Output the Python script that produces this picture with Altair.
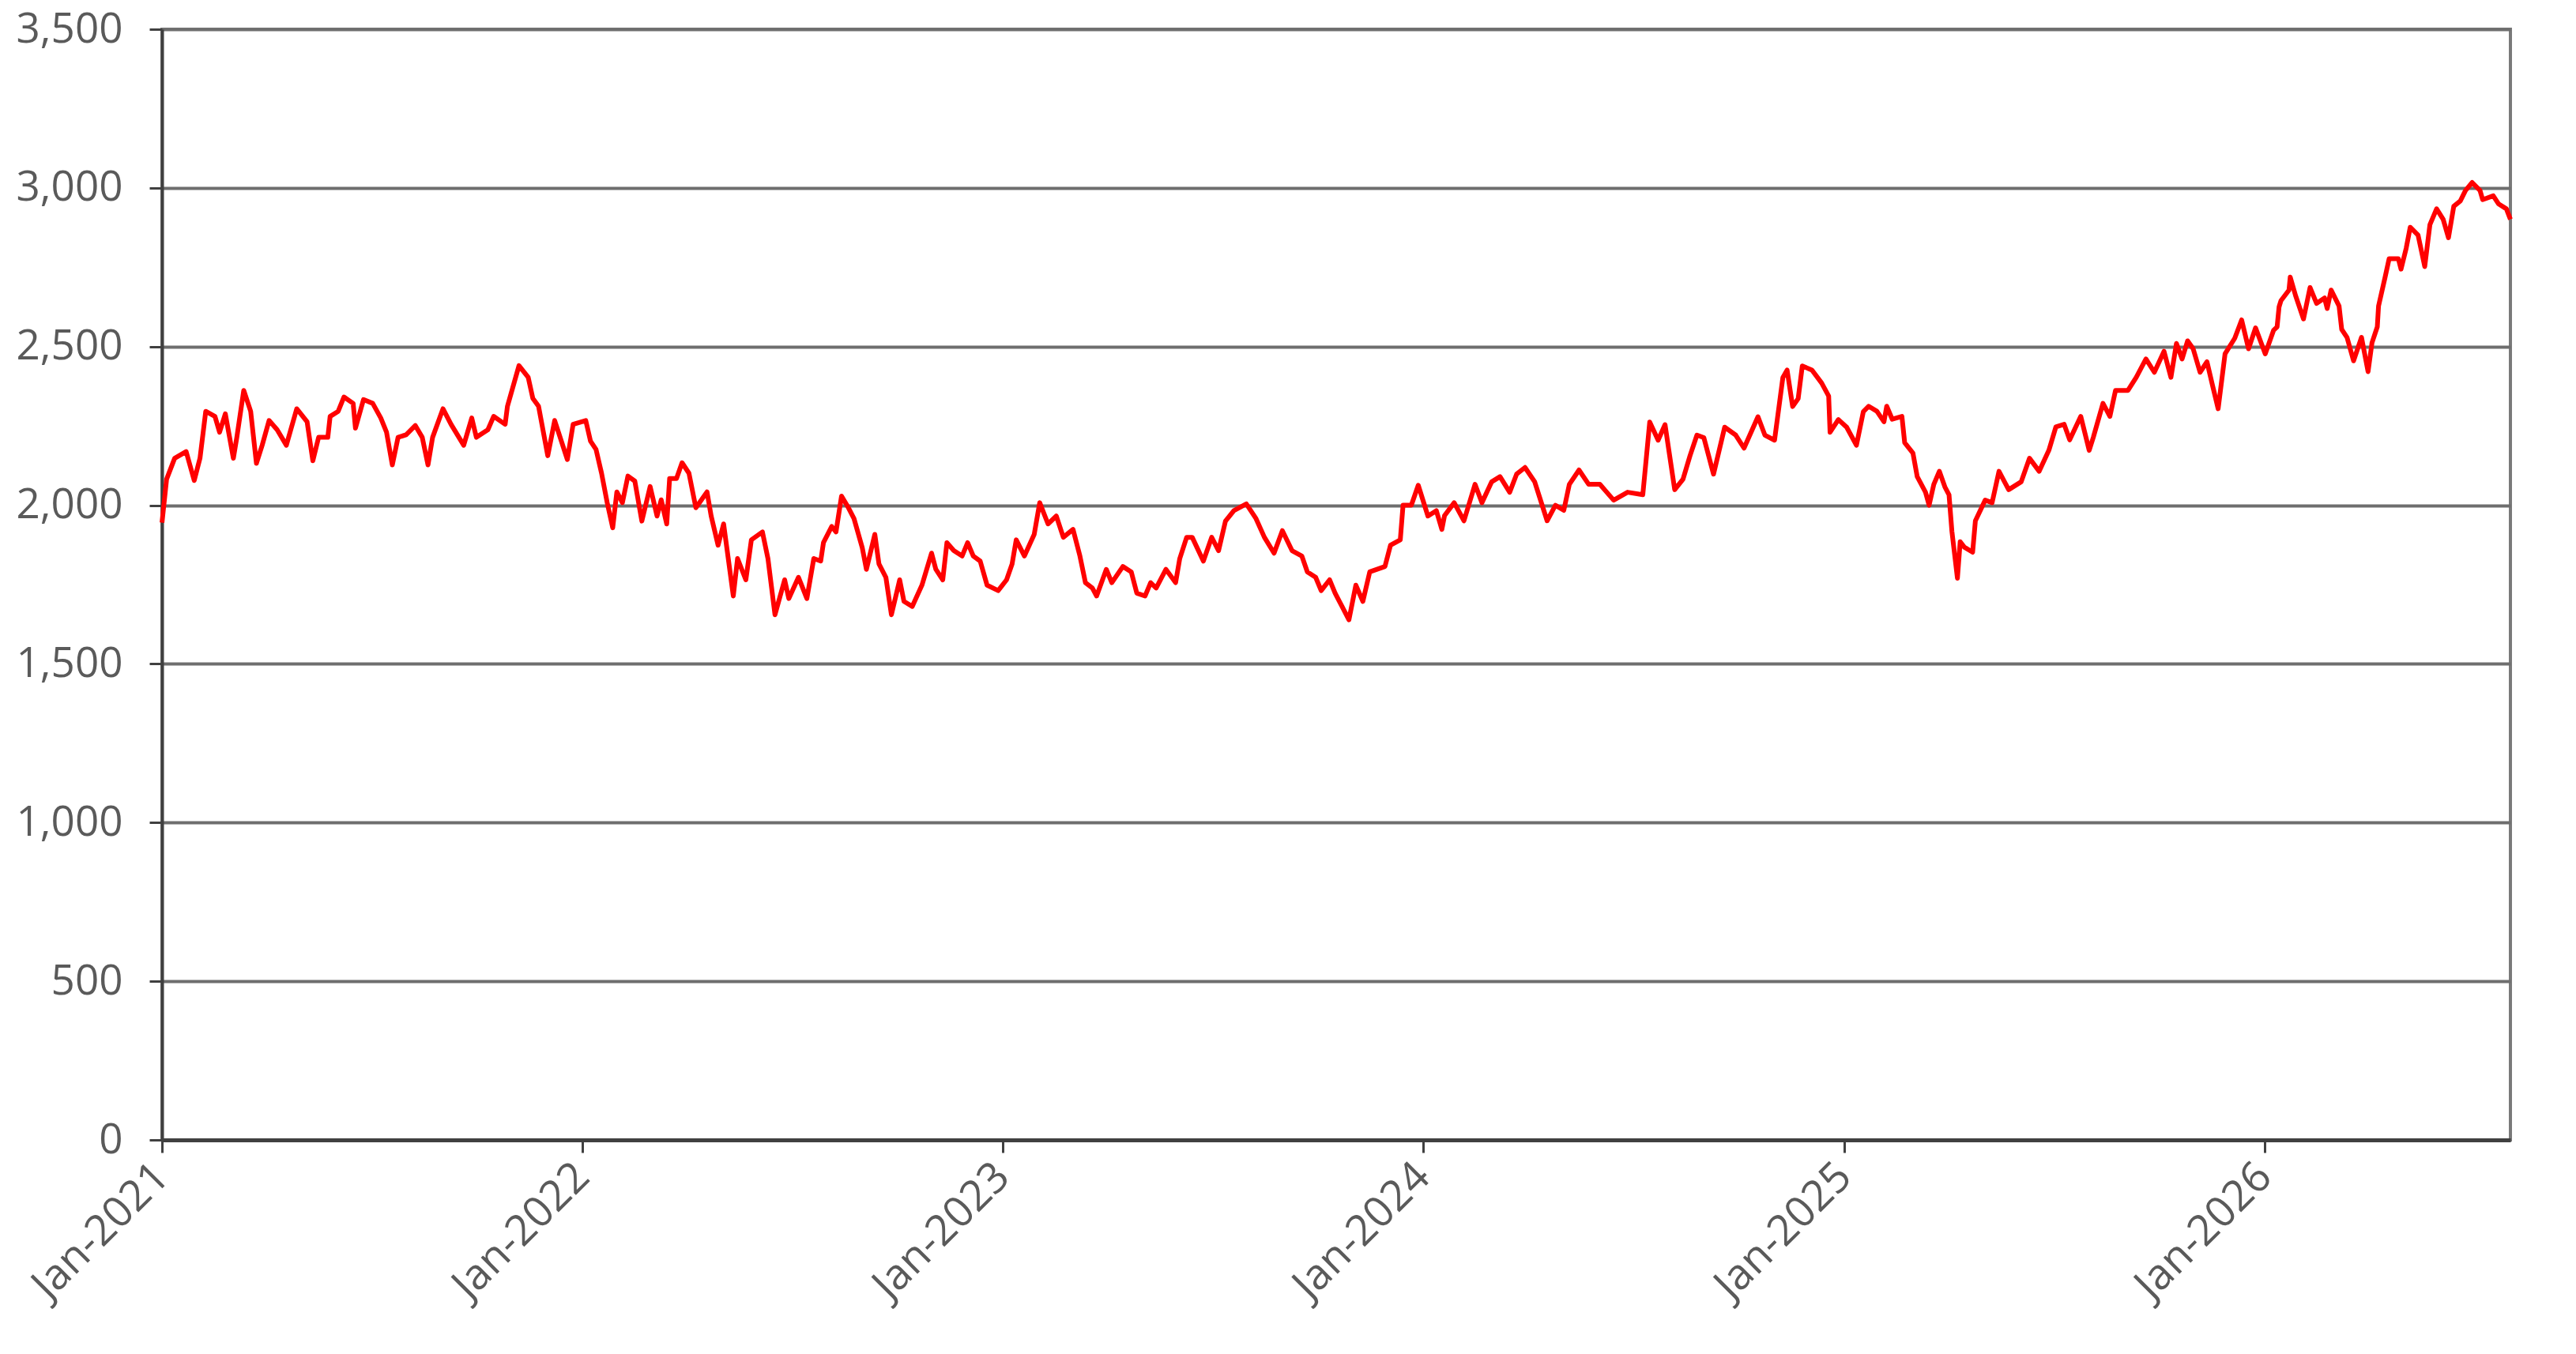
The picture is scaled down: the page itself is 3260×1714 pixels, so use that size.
import altair as alt
import pandas as pd

# Day of year (offset from 1 January of that year) and index level
days_2021 = [0, 4, 11, 21, 28, 33, 38, 46, 50, 55, 62, 65, 71, 77, 82, 87, 93, 100, 108, 117,
             126, 131, 136, 144, 146, 153, 158, 166, 168, 175, 183, 190, 195, 200, 205, 212,
             220, 226, 231, 235, 244, 251, 262, 269, 273, 283, 288, 298, 300, 310, 318, 322,
             327, 335, 341, 352, 357]
vals_2021 = [1945, 2082, 2148, 2169, 2078, 2148, 2296, 2280, 2230, 2288, 2148, 2214, 2362, 2296,
             2132, 2189, 2267, 2238, 2189, 2304, 2263, 2140, 2214, 2214, 2280, 2296, 2341, 2321,
             2243, 2333, 2321, 2275, 2230, 2127, 2214, 2222, 2251, 2214, 2127, 2214, 2304, 2255,
             2189, 2275, 2214, 2238, 2280, 2255, 2312, 2440, 2403, 2337, 2312, 2156, 2267, 2144,
             2255]

days_2022 = [3, 7.1, 11.9, 16.7, 21.6, 26.4, 30, 34.8, 39.6, 45.6, 51.7, 58.9, 64.9, 68.5, 73.3,
             75.8, 81.8, 86.6, 92.6, 98.6, 108.3, 111.9, 117.9, 122.7, 131.1, 134.8, 142, 146.8,
             156.4, 161.2, 167.3, 175.7, 179.3, 187.7, 195, 201, 207, 209.4, 216.6, 220.3, 225.1,
             231.1, 235.9, 243.1, 246.7, 254, 257.6, 263.6, 268.4, 275.6, 279.3, 286.5, 294.9,
             303.3, 307, 313, 316.6, 322.6, 329.8, 334.6, 339.5, 345.5, 351.5, 361.1]
vals_2022 = [2267, 2202, 2176, 2101, 2008, 1929, 2042, 2008, 2092, 2076, 1950, 2059, 1966, 2017,
             1941, 2084, 2084, 2134, 2101, 1992, 2042, 1966, 1874, 1941, 1714, 1832, 1765, 1891,
             1916, 1832, 1655, 1765, 1706, 1773, 1706, 1832, 1824, 1882, 1933, 1916, 2029, 1992,
             1958, 1866, 1798, 1908, 1815, 1773, 1655, 1765, 1697, 1681, 1748, 1849, 1798, 1765,
             1882, 1857, 1840, 1882, 1840, 1824, 1748, 1731]

days_2023 = [3.4, 8.2, 11.8, 18.9, 27.4, 32.2, 39.4, 46.6, 52.7, 61.1, 67.1, 71.9, 77.9, 81.6, 90,
             94.8, 104.4, 111.7, 116.5, 123.7, 128.5, 133.3, 141.8, 150.2, 153.8, 159.8, 164.6,
             174.3, 181.5, 187.5, 193.5, 200.8, 211.6, 220, 227.3, 235.7, 242.9, 251.3, 259.8,
             264.6, 271.8, 276.6, 283.9, 288.7, 294.7, 300.7, 306.7, 312.8, 318.8, 332, 336.8,
             345.3, 347.7, 354.9, 360.9]
vals_2023 = [1765, 1815, 1891, 1840, 1908, 2008, 1941, 1966, 1899, 1924, 1840, 1756, 1739, 1714,
             1798, 1756, 1807, 1790, 1723, 1714, 1756, 1739, 1798, 1756, 1832, 1899, 1899, 1824,
             1899, 1857, 1950, 1983, 2004, 1958, 1899, 1849, 1920, 1857, 1840, 1790, 1773, 1731,
             1765, 1723, 1681, 1639, 1748, 1697, 1790, 1807, 1874, 1891, 2000, 2000, 2063]

days_2024 = [4.3, 11.6, 16.4, 18.7, 27.1, 35.6, 45.2, 51.2, 59.7, 66.9, 75.3, 81.3, 88.6, 97,
             107.8, 115, 122.3, 127.1, 135.5, 143.9, 153.6, 165.6, 177.7, 190.9, 196.9, 204.2,
             210.2, 218.6, 225.8, 231.9, 237.9, 243.9, 252.3, 262, 271.6, 278.8, 290.9, 296.9,
             305.3, 312.5, 316.2, 321, 325.8, 329.4, 337.8, 346.2, 352.3, 353.5, 360.7]
vals_2024 = [1966, 1983, 1924, 1967, 2008, 1951, 2066, 2008, 2074, 2090, 2041, 2098, 2119, 2074,
             1951, 2000, 1984, 2066, 2111, 2066, 2066, 2016, 2041, 2033, 2262, 2205, 2254, 2049,
             2082, 2156, 2221, 2213, 2098, 2246, 2221, 2180, 2279, 2221, 2205, 2402, 2426, 2311,
             2336, 2439, 2426, 2385, 2344, 2230, 2270]

days_2025 = [1.9, 10.4, 16.4, 21, 28.2, 34.3, 36.7, 41.5, 49.9, 52.3, 59.5, 63.2, 70.4, 73.5,
             77.6, 82.4, 87.2, 90.8, 93.3, 98.1, 100.5, 104.1, 111.3, 113.7, 122.2, 128.2, 134.2,
             142.6, 153.5, 160.7, 169.1, 177.5, 183.6, 190.8, 195.6, 205.2, 212.5, 216.1, 224.5,
             230.5, 235.4, 246.2, 253.4, 261.8, 269.1, 277.5, 283.5, 288.3, 293.2, 298, 302.8,
             308.8, 314.8, 319.6, 324.5, 330.5, 338.9, 344.9, 350.9, 357]
vals_2025 = [2246, 2189, 2295, 2312, 2296, 2263, 2312, 2271, 2280, 2197, 2164, 2090, 2041, 2000,
             2066, 2107, 2058, 2033, 1918, 1770, 1885, 1868, 1852, 1951, 2016, 2008, 2107, 2049,
             2074, 2148, 2107, 2173, 2247, 2255, 2206, 2280, 2173, 2214, 2321, 2280, 2362, 2362,
             2403, 2461, 2419, 2485, 2403, 2510, 2461, 2518, 2493, 2419, 2452, 2378, 2304, 2477,
             2526, 2584, 2493, 2559]

days_2026 = [0.4, 7.6, 10.7, 12.4, 14.1, 21, 22.1, 26.7, 33.6, 39.3, 45, 51.9, 54.2, 57.6, 64.5,
             66.8, 71.4, 77.1, 84, 89.7, 93.1, 97.7, 98.8, 104.5, 108, 116, 118.3, 122.8, 126.3,
             133.1, 138.9, 143.4, 149.2, 154.9, 159.5, 164.1, 169.8, 174.3, 180.1, 186.9, 189.2,
             198.4, 202.9, 209.8, 213.3]
vals_2026 = [2477, 2551, 2562, 2625, 2645, 2678, 2719, 2661, 2587, 2686, 2636, 2653, 2620, 2678,
             2628, 2554, 2529, 2455, 2529, 2421, 2512, 2562, 2628, 2719, 2777, 2777, 2744, 2810,
             2876, 2851, 2752, 2884, 2934, 2901, 2843, 2942, 2959, 2992, 3017, 2992, 2963, 2975,
             2950, 2934, 2901]

years = [2021, 2022, 2023, 2024, 2025, 2026]
y_ticks = [0, 500, 1000, 1500, 2000, 2500, 3000, 3500]

segments = [
    (2021, days_2021, vals_2021),
    (2022, days_2022, vals_2022),
    (2023, days_2023, vals_2023),
    (2024, days_2024, vals_2024),
    (2025, days_2025, vals_2025),
    (2026, days_2026, vals_2026),
]
frames = []
for yr, dd, vv in segments:
    base = pd.Timestamp(year=yr, month=1, day=1)
    frames.append(pd.DataFrame({"date": base + pd.to_timedelta(dd, unit="D"), "value": vv}))
df = pd.concat(frames, ignore_index=True)

FONT = "Open Sans"
LABEL_COLOR = "#5a5a5a"

chart = (
    alt.Chart(df)
    .mark_line(color="#FF0000", strokeWidth=6, strokeJoin="round")
    .encode(
        x=alt.X(
            "date:T",
            title=None,
            scale=alt.Scale(nice=False, padding=0),
            axis=alt.Axis(
                values=[alt.DateTime(year=y, month=1, date=1) for y in years],
                format="%b-%Y",
                labelAngle=-45,
                labelAlign="right",
                labelBaseline="middle",
                labelFlush=False,
                labelOverlap=False,
                labelLimit=0,
                labelPadding=22,
                labelFont=FONT,
                labelFontSize=54,
                labelColor=LABEL_COLOR,
                tickSize=16,
                tickWidth=3,
                tickColor="#404040",
                domainColor="#404040",
                domainWidth=5,
                grid=False,
            ),
        ),
        y=alt.Y(
            "value:Q",
            title=None,
            scale=alt.Scale(domain=[0, 3500], nice=False, zero=True),
            axis=alt.Axis(
                values=y_ticks,
                format=",.0f",
                labelFont=FONT,
                labelFontSize=53,
                labelColor=LABEL_COLOR,
                labelPadding=34,
                labelFlush=False,
                labelLimit=0,
                tickSize=16,
                tickWidth=3,
                tickColor="#404040",
                domainColor="#404040",
                domainWidth=4,
                grid=True,
                gridColor="#6e6e6e",
                gridWidth=4,
            ),
        ),
    )
    .properties(
        width=2972,
        height=1406,
        padding={"left": 197, "top": 29, "right": 75, "bottom": 250},
        autosize=alt.AutoSizeParams(type="none"),
        background="white",
    )
    .configure_view(stroke="#7a7a7a", strokeWidth=4)
)

chart.save("out.html", embed_options={"renderer": "svg", "actions": False})
